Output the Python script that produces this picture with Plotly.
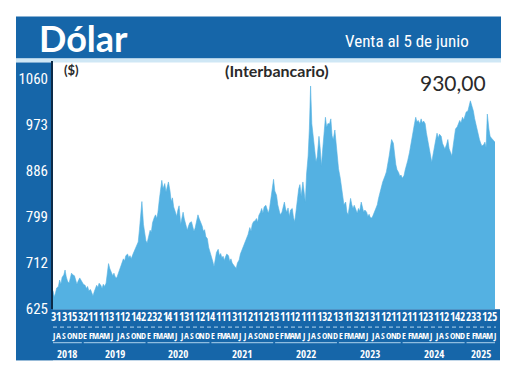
import plotly.graph_objects as go
import pandas as pd

W, H = 520, 381

# ---- data (weekly readings, CLP per USD) ----
v2018 = [660, 648, 655, 665, 668, 680, 672, 685, 690, 699, 686, 678,
         674, 685, 693, 690, 688, 680, 672, 678, 684, 680, 676, 672]
v2019 = [670, 664, 668, 660, 662, 655, 650, 658, 664, 670, 666, 674,
         670, 664, 672, 668, 674, 690, 711, 702, 695, 688, 693, 686,
         684, 690, 699, 704, 712, 720, 716, 726, 729, 722, 726, 720,
         728, 733, 738, 742, 752, 775, 803, 828, 785, 768, 754, 750]
v2020 = [762, 774, 770, 788, 798, 803, 796, 808, 832, 848, 868, 852,
         862, 846, 858, 865, 848, 828, 835, 818, 808, 800, 812, 820,
         785, 798, 808, 795, 785, 774, 782, 788, 790, 780, 772, 778,
         792, 803, 796, 790, 782, 772, 775, 762, 758, 742, 735, 729]
v2021 = [715, 705, 722, 732, 738, 726, 730, 722, 725, 717, 724, 729,
         726, 715, 720, 712, 708, 705, 702, 712, 718, 729, 735, 742,
         748, 756, 760, 766, 779, 772, 785, 790, 792, 796, 789, 802,
         808, 815, 806, 818, 821, 812, 806, 815, 840, 858, 870, 848]
v2022 = [840, 822, 810, 803, 808, 820, 827, 814, 808, 816, 800, 812,
         815, 798, 790, 808, 840, 852, 860, 838, 865, 845, 827, 880,
         914, 965, 1046, 975, 945, 918, 903, 912, 951, 928, 895, 925,
         962, 987, 968, 975, 975, 984, 952, 945, 963, 935, 905, 890]
v2023 = [872, 858, 840, 822, 827, 808, 803, 815, 834, 822, 815, 821,
         814, 806, 815, 810, 827, 816, 808, 812, 808, 800, 804, 798,
         797, 802, 808, 812, 822, 834, 846, 852, 865, 870, 877, 884,
         898, 914, 930, 945, 938, 914, 898, 888, 883, 876, 878, 872]
v2024 = [877, 888, 895, 905, 920, 935, 951, 962, 975, 987, 978, 981,
         975, 984, 976, 980, 975, 958, 945, 932, 918, 902, 916, 933,
         945, 957, 948, 955, 951, 938, 930, 927, 936, 945, 928, 920,
         914, 932, 950, 965, 969, 975, 981, 976, 987, 982, 992, 997]
v2025 = [999, 1008, 1018, 1010, 999, 985, 975, 962, 951, 945, 938, 933,
         935, 940, 930, 993, 965, 951, 948, 945, 940]

values = v2018 + v2019 + v2020 + v2021 + v2022 + v2023 + v2024 + v2025

month_starts = pd.date_range("2018-07-01", "2025-06-01", freq="MS")
week_offsets = [0, 7, 14, 21]
dates = [m + pd.Timedelta(days=d) for m in month_starts[:-1] for d in week_offsets]
dates.append(pd.Timestamp("2025-06-05"))

month_letters = ["E", "F", "M", "A", "M", "J", "J", "A", "S", "O", "N", "D"]
day_digits = list("3131532111131121422321" "41131121411131121121311121111321"
                  "311321311211211123112142233125")
years = ["2018", "2019", "2020", "2021", "2022", "2023", "2024", "2025"]
y_ticks = [625, 712, 799, 886, 973, 1060]

title = "Dólar"
subtitle = "Venta al 5 de junio"
unit = "($)"
series_name = "(Interbancario)"
last_value = "930,00"

# ---- styling ----
BLUE = "#1666a9"
AREA = "#54b1e2"
COND = "Open Sans Condensed, Roboto Condensed, sans-serif"
RCOND = "Roboto Condensed, sans-serif"

def px(x):
    return x / W

def py(y):
    return 1 - y / H

fig = go.Figure()
fig.add_trace(go.Scatter(
    x=dates, y=values, mode="lines", fill="tozeroy",
    line=dict(width=0.6, color=AREA), fillcolor=AREA, hoverinfo="skip",
    showlegend=False))

shapes = [
    dict(type="rect", xref="paper", yref="paper", x0=px(16), x1=px(501), y0=py(60), y1=py(17),
         fillcolor=BLUE, line_width=0, layer="below"),
    dict(type="rect", xref="paper", yref="paper", x0=px(16), x1=px(501), y0=py(64), y1=py(60),
         fillcolor="#cfe7f5", line_width=0, layer="below"),
    dict(type="rect", xref="paper", yref="paper", x0=px(16), x1=px(53), y0=py(369), y1=py(64),
         fillcolor=BLUE, line_width=0, layer="below"),
    dict(type="rect", xref="paper", yref="paper", x0=px(16), x1=px(500), y0=py(369), y1=py(316.7),
         fillcolor=BLUE, line_width=0, layer="below"),
    dict(type="line", xref="paper", yref="paper", x0=px(53), x1=px(496), y0=py(335), y1=py(335),
         line=dict(color="rgba(200,228,248,0.9)", width=1, dash="4px,3px")),
]

annotations = [
    dict(text="<b>" + title + "</b>", x=px(37), y=py(39), xref="paper", yref="paper",
         xanchor="left", yanchor="middle", showarrow=False,
         font=dict(family="Lato, sans-serif", size=36, color="white")),
    dict(text=subtitle, x=px(471), y=py(42), xref="paper", yref="paper",
         xanchor="right", yanchor="middle", showarrow=False,
         font=dict(family=RCOND, size=17, color="white")),
    dict(text="<b>" + series_name + "</b>", x=px(277), y=py(72), xref="paper", yref="paper",
         xanchor="center", yanchor="middle", showarrow=False,
         font=dict(family="Lato, sans-serif", size=16, color="#2a2a2a")),
    dict(text="<b>" + unit + "</b>", x=px(62), y=py(72), xref="paper", yref="paper",
         xanchor="left", yanchor="middle", showarrow=False,
         font=dict(family="Lato, sans-serif", size=13, color="#2a2a2a")),
    dict(text=last_value, x=px(488), y=py(84), xref="paper", yref="paper",
         xanchor="right", yanchor="middle", showarrow=False,
         font=dict(family="Lato, sans-serif", size=21, color="#2a2a2a")),
]

for i, m in enumerate(month_starts):
    mid = m + pd.Timedelta(days=2)
    annotations.append(dict(text="<b>" + day_digits[i] + "</b>", x=mid, y=py(324),
                            xref="x", yref="paper", xanchor="center", yanchor="middle",
                            showarrow=False, font=dict(family=COND, size=11.5, color="white")))
    annotations.append(dict(text="<b>" + month_letters[m.month - 1] + "</b>", x=mid, y=py(344),
                            xref="x", yref="paper", xanchor="center", yanchor="middle",
                            showarrow=False, font=dict(family=COND, size=9, color="white")))

for yr in years:
    ms = [m for m in month_starts if str(m.year) == yr]
    x0 = ms[0] - pd.Timedelta(days=8)
    x1 = ms[-1] + pd.Timedelta(days=12)
    shapes.append(dict(type="line", xref="x", yref="paper", x0=x0, x1=x1, y0=py(351), y1=py(351),
                       line=dict(color="rgba(190,222,245,0.9)", width=1)))
    center = ms[0] + (ms[-1] - ms[0]) / 2 + pd.Timedelta(days=2)
    annotations.append(dict(text="<b>" + yr + "</b>", x=center, y=py(362), xref="x", yref="paper",
                            xanchor="center", yanchor="middle", showarrow=False,
                            font=dict(family=COND, size=11, color="white")))

fig.update_layout(
    width=W, height=H, margin=dict(l=0, r=0, t=0, b=0),
    paper_bgcolor="white", plot_bgcolor="white",
    xaxis=dict(domain=[px(53), px(495)], range=[dates[0], dates[-1]],
               showticklabels=False, showgrid=False, zeroline=False, ticks="", showline=False,
               fixedrange=True),
    yaxis=dict(domain=[py(316.7), py(62)], range=[625, 1094], tickvals=y_ticks,
               ticktext=[str(v) for v in y_ticks], showgrid=False, zeroline=False,
               showline=True, linecolor="#0c2b48", linewidth=2, ticks="",
               tickfont=dict(family=RCOND, size=15, color="white"), fixedrange=True),
    shapes=shapes, annotations=annotations, showlegend=False,
)

fig.write_html("out.html", config={"displayModeBar": False},
               post_script="document.body.style.margin='0';")
